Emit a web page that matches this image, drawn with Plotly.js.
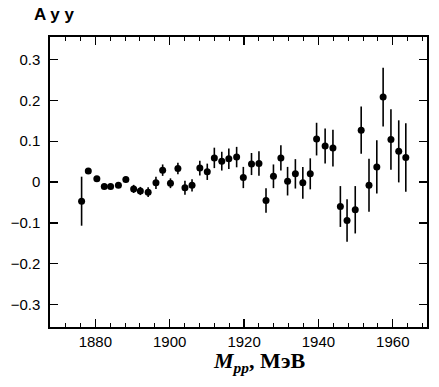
<!DOCTYPE html>
<html>
<head>
<meta charset="utf-8">
<script src="https://cdn.plot.ly/plotly-3.0.1.min.js"></script>
<style>html,body{margin:0;padding:0;background:#fff;}#chart{width:439px;height:387px;}</style>
</head>
<body>
<div id="chart"></div>
<script>
const massMeV = [1876.3, 1878.1, 1880.4, 1882.4, 1884.1, 1886.2, 1888.2, 1890.3, 1892.1, 1894.2,
  1896.3, 1898.1, 1900.2, 1902.2, 1904.1, 1906.0, 1908.1, 1910.1, 1912.0, 1914.0,
  1915.9, 1918.0, 1919.8, 1922.0, 1924.0, 1925.9, 1927.9, 1929.9, 1931.7, 1933.8,
  1935.8, 1937.8, 1939.5, 1941.8, 1943.9, 1945.9, 1947.7, 1949.9, 1951.5, 1953.6,
  1955.7, 1957.4, 1959.5, 1961.6, 1963.5];
const ayy = [-0.047, 0.027, 0.008, -0.011, -0.011, -0.008, 0.006, -0.017, -0.022, -0.025,
  -0.002, 0.029, -0.003, 0.033, -0.014, -0.008, 0.034, 0.025, 0.059, 0.051,
  0.057, 0.061, 0.011, 0.044, 0.045, -0.045, 0.014, 0.059, 0.002, 0.020,
  -0.002, 0.020, 0.105, 0.088, 0.083, -0.060, -0.094, -0.068, 0.127, -0.008,
  0.037, 0.208, 0.104, 0.075, 0.060];
const ayyErr = [0.060, 0.006, 0.006, 0.006, 0.006, 0.006, 0.007, 0.010, 0.010, 0.012,
  0.015, 0.014, 0.012, 0.014, 0.017, 0.015, 0.018, 0.020, 0.025, 0.023,
  0.025, 0.025, 0.026, 0.027, 0.030, 0.030, 0.029, 0.031, 0.035, 0.036,
  0.039, 0.038, 0.040, 0.043, 0.045, 0.050, 0.052, 0.058, 0.058, 0.065,
  0.065, 0.072, 0.074, 0.076, 0.084];
const xTickVals = [1880, 1900, 1920, 1940, 1960];
const yTickVals = [-0.3, -0.2, -0.1, 0, 0.1, 0.2, 0.3];
const yTickText = ['\u22120.3', '\u22120.2', '\u22120.1', '0', '0.1', '0.2', '0.3'];
const yTitle = 'A y y';
const xTitle = '<b><i>M</i><sub><i>pp</i></sub>, МэВ</b>';

const trace = {
  x: massMeV, y: ayy, type: 'scatter', mode: 'markers',
  marker: {color: '#000', size: 7},
  error_y: {type: 'data', array: ayyErr, visible: true, color: '#000', thickness: 1.6, width: 0},
  hoverinfo: 'skip'
};
const tickFont = {family: 'Liberation Sans, Arial, sans-serif', size: 15, color: '#000'};
const layout = {
  width: 439, height: 387,
  margin: {l: 50, r: 12, t: 37, b: 60},
  paper_bgcolor: '#fff', plot_bgcolor: '#fff',
  showlegend: false,
  xaxis: {
    range: [1867.8, 1969.2], tickvals: xTickVals, ticktext: xTickVals.map(String),
    ticks: 'inside', ticklen: 8, tickwidth: 1.3, tickcolor: '#000',
    minor: {dtick: 4, tick0: 1880, ticks: 'inside', ticklen: 4, tickwidth: 1, tickcolor: '#000'},
    showline: true, linewidth: 1.6, linecolor: '#000', mirror: 'ticks',
    showgrid: false, zeroline: false, tickfont: tickFont
  },
  yaxis: {
    range: [-0.355, 0.355], tickvals: yTickVals, ticktext: yTickText,
    ticks: 'inside', ticklen: 8, tickwidth: 1.3, tickcolor: '#000',
    showline: true, linewidth: 1.6, linecolor: '#000', mirror: 'ticks',
    showgrid: false, zeroline: false, tickfont: tickFont, ticklabelstandoff: 5
  },
  annotations: [{
    text: '<b>' + yTitle + '</b>', xref: 'paper', yref: 'paper', x: 0, y: 1.0, yshift: 23, xshift: -18,
    xanchor: 'left', yanchor: 'middle', showarrow: false,
    font: {family: 'Liberation Sans, Arial, sans-serif', size: 17, color: '#000'}
  }, {
    text: xTitle, xref: 'paper', yref: 'paper', x: 0.554, y: -0.12,
    xanchor: 'center', yanchor: 'middle', showarrow: false,
    font: {family: 'Liberation Serif, Times New Roman, serif', size: 22, color: '#000'}
  }]
};
Plotly.newPlot('chart', [trace], layout, {displayModeBar: false, staticPlot: true});
</script>
</body>
</html>
